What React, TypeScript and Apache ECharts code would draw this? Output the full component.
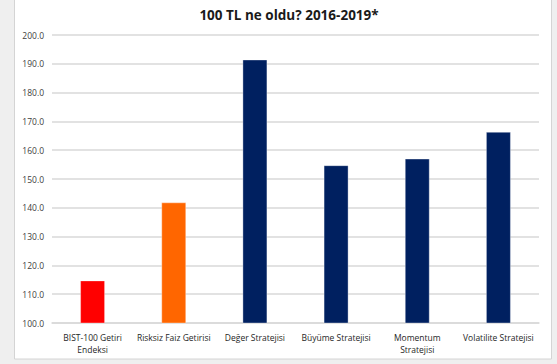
import React, { useEffect, useRef } from "react";
import * as echarts from "echarts";

const title = "100 TL ne oldu? 2016-2019*";
const categories = [
  "BIST-100 Getiri\nEndeksi",
  "Risksiz Faiz Getirisi",
  "Değer Stratejisi",
  "Büyüme Stratejisi",
  "Momentum\nStratejisi",
  "Volatilite Stratejisi",
];
const values = [114.8, 141.9, 191.5, 154.8, 157.1, 166.4];
const barColors = ["#ff0000", "#ff6600", "#002060", "#002060", "#002060", "#002060"];
const yMin = 100;
const yMax = 200;
const yStep = 10;

export default function App() {
  const ref = useRef<HTMLDivElement>(null);
  useEffect(() => {
    if (!ref.current) return;
    const chart = echarts.init(ref.current, null, { renderer: "svg" });
    chart.setOption({
      animation: false,
      backgroundColor: "#efefef",
      graphic: [
        {
          type: "rect",
          z: -10,
          shape: { x: 14.5, y: -1, width: 537, height: 360 },
          style: { fill: "#ffffff", stroke: "#d4d4d4", lineWidth: 1 },
          silent: true,
        },
      ],
      title: {
        text: title,
        left: 284,
        textAlign: "center",
        top: 3,
        textStyle: {
          fontFamily: "Open Sans",
          fontWeight: "bold",
          fontSize: 13.5,
          color: "#1a1a1a",
        },
      },
      grid: { left: 52, right: 18, top: 35, bottom: 41, containLabel: false },
      xAxis: {
        type: "category",
        data: categories,
        axisLine: { show: true, lineStyle: { color: "#d9d9d9", width: 1.5 } },
        axisTick: { show: false },
        axisLabel: {
          interval: 0,
          margin: 8,
          fontFamily: "Open Sans",
          fontSize: 8.5,
          lineHeight: 12,
          color: "#262626",
        },
      },
      yAxis: {
        type: "value",
        min: yMin,
        max: yMax,
        interval: yStep,
        axisLine: { show: false },
        axisTick: { show: false },
        splitLine: { lineStyle: { color: "#d9d9d9", width: 1.5 } },
        axisLabel: {
          margin: 8,
          fontFamily: "Open Sans",
          fontSize: 8.5,
          color: "#404040",
          formatter: (v: number) => v.toFixed(1),
        },
      },
      series: [
        {
          type: "bar",
          barWidth: 25,
          data: values.map((v, i) => ({
            value: v,
            itemStyle: { color: barColors[i], borderColor: "rgba(255,255,255,0.35)", borderWidth: 1 },
          })),
        },
      ],
    });
    return () => chart.dispose();
  }, []);
  return (
    <div
      ref={ref}
      style={{ position: "fixed", left: 0, top: 0, width: 557, height: 364 }}
    />
  );
}
